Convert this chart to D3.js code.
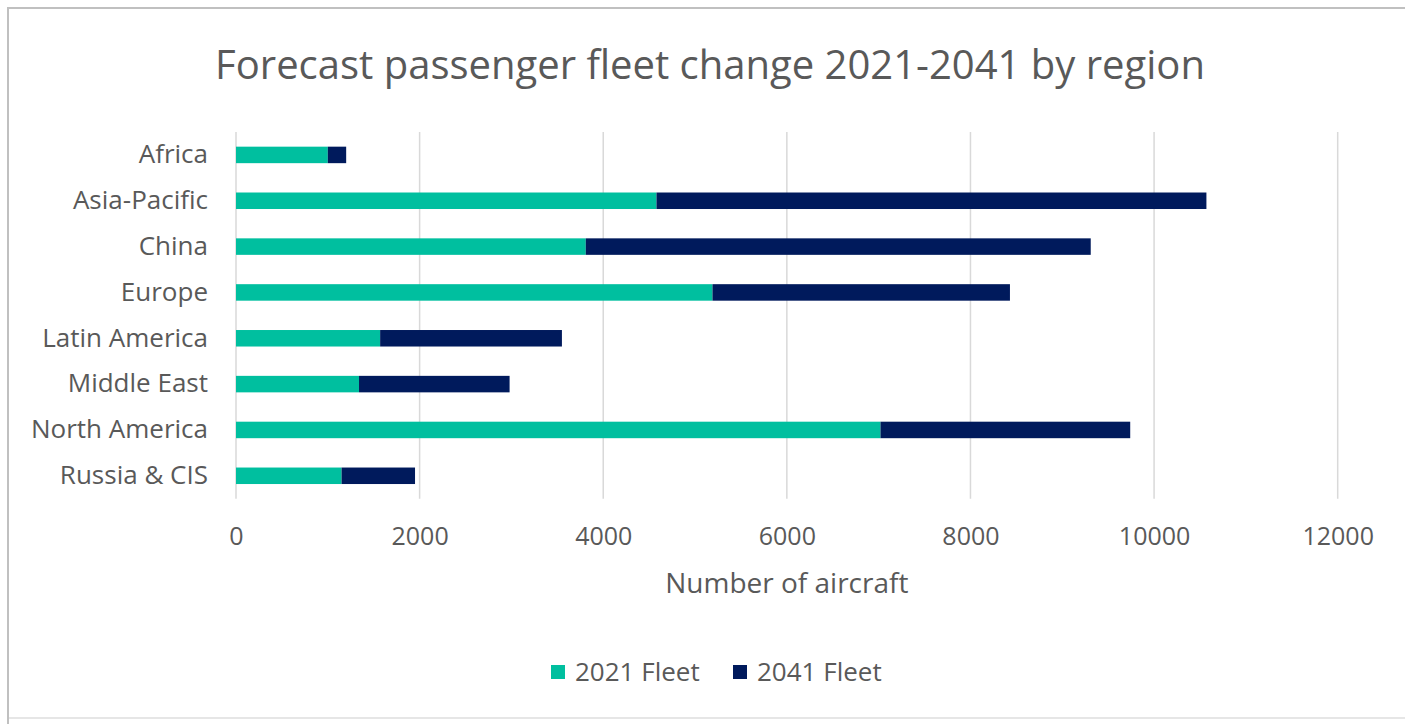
<!DOCTYPE html>
<html>
<head>
<meta charset="utf-8">
<script src="https://cdn.jsdelivr.net/npm/d3@7"></script>
<style>
  html, body { margin: 0; padding: 0; background: #ffffff; overflow: hidden; }
  svg { display: block; }
  text { font-family: "Open Sans", sans-serif; fill: #595959; }
</style>
</head>
<body>
<svg id="chart" width="1405" height="724"></svg>
<script>
// ---- Data ----
const categories = ["Africa", "Asia-Pacific", "China", "Europe", "Latin America", "Middle East", "North America", "Russia & CIS"];
const fleet2021 = [1000, 4580, 3810, 5190, 1570, 1340, 7020, 1150];
// 2041 Fleet series as stacked in the chart (segment added on top of 2021 fleet)
const fleet2041 = [200, 5990, 5500, 3240, 1980, 1640, 2720, 800];
const seriesNames = ["2021 Fleet", "2041 Fleet"];
const xTicks = [0, 2000, 4000, 6000, 8000, 10000, 12000];
const titleText = "Forecast passenger fleet change 2021-2041 by region";
const xAxisTitle = "Number of aircraft";

// ---- Styles ----
const colors = ["#00BF9F", "#001A5C"];
const W = 1405, H = 724;
const plot = { left: 236, right: 1337.7, top: 132, bottom: 498.7 };

const svg = d3.select("#chart");

// border (left + top visible, right edge runs off the image)
svg.append("line")
  .attr("x1", 8).attr("x2", W + 5).attr("y1", 8).attr("y2", 8)
  .attr("stroke", "#c0c0c0").attr("stroke-width", 2);
svg.append("line")
  .attr("x1", 8).attr("x2", 8).attr("y1", 7).attr("y2", H)
  .attr("stroke", "#c0c0c0").attr("stroke-width", 2);
svg.append("line")
  .attr("x1", 9).attr("x2", W + 5).attr("y1", 718).attr("y2", 718)
  .attr("stroke", "#e6e6e6").attr("stroke-width", 2);

const x = d3.scaleLinear().domain([0, 12000]).range([plot.left, plot.right]);
const y = d3.scaleBand().domain(categories).range([plot.top, plot.bottom])
  .paddingInner(0.64).paddingOuter(0.32);

// gridlines
svg.append("g").selectAll("line").data(xTicks).join("line")
  .attr("x1", d => x(d)).attr("x2", d => x(d))
  .attr("y1", plot.top).attr("y2", plot.bottom)
  .attr("stroke", "#d9d9d9").attr("stroke-width", 1.5);

// stacked data
const rows = categories.map((c, i) => ({ cat: c, "2021 Fleet": fleet2021[i], "2041 Fleet": fleet2041[i] }));
const stacked = d3.stack().keys(seriesNames)(rows);

svg.append("g").selectAll("g").data(stacked).join("g")
  .attr("fill", (d, i) => colors[i])
  .selectAll("rect").data(d => d).join("rect")
  .attr("x", d => x(d[0]))
  .attr("width", d => x(d[1]) - x(d[0]))
  .attr("y", d => y(d.data.cat))
  .attr("height", y.bandwidth());

// x axis labels
const xAxis = d3.axisBottom(x).tickValues(xTicks).tickSize(0).tickPadding(0).tickFormat(d3.format("d"));
const gx = svg.append("g").attr("transform", `translate(0, ${plot.bottom + 29})`).call(xAxis);
gx.select(".domain").remove();
gx.selectAll("text").attr("font-size", 25).attr("fill", "#595959")
  .style("font-family", '"Open Sans", sans-serif');

// y axis labels
const yAxis = d3.axisLeft(y).tickSize(0).tickPadding(28);
const gy = svg.append("g").attr("transform", `translate(${plot.left}, 0)`).call(yAxis);
gy.select(".domain").remove();
gy.selectAll("text").attr("font-size", 26).attr("fill", "#595959")
  .style("font-family", '"Open Sans", sans-serif');

// title
svg.append("text").attr("x", (213 + 1207) / 2).attr("y", 79)
  .attr("text-anchor", "middle").attr("font-size", 40).text(titleText);

// axis title
svg.append("text").attr("x", (plot.left + plot.right) / 2).attr("y", 593)
  .attr("text-anchor", "middle").attr("font-size", 28).text(xAxisTitle);

// legend
const legendX = [551, 733];
const lg = svg.append("g").selectAll("g").data(seriesNames).join("g")
  .attr("transform", (d, i) => `translate(${legendX[i]}, 672)`);
lg.append("rect").attr("x", 0).attr("y", -7).attr("width", 14).attr("height", 14)
  .attr("fill", (d, i) => colors[i]);
lg.append("text").attr("x", 24).attr("y", 9).attr("font-size", 26).text(d => d);
</script>
</body>
</html>
